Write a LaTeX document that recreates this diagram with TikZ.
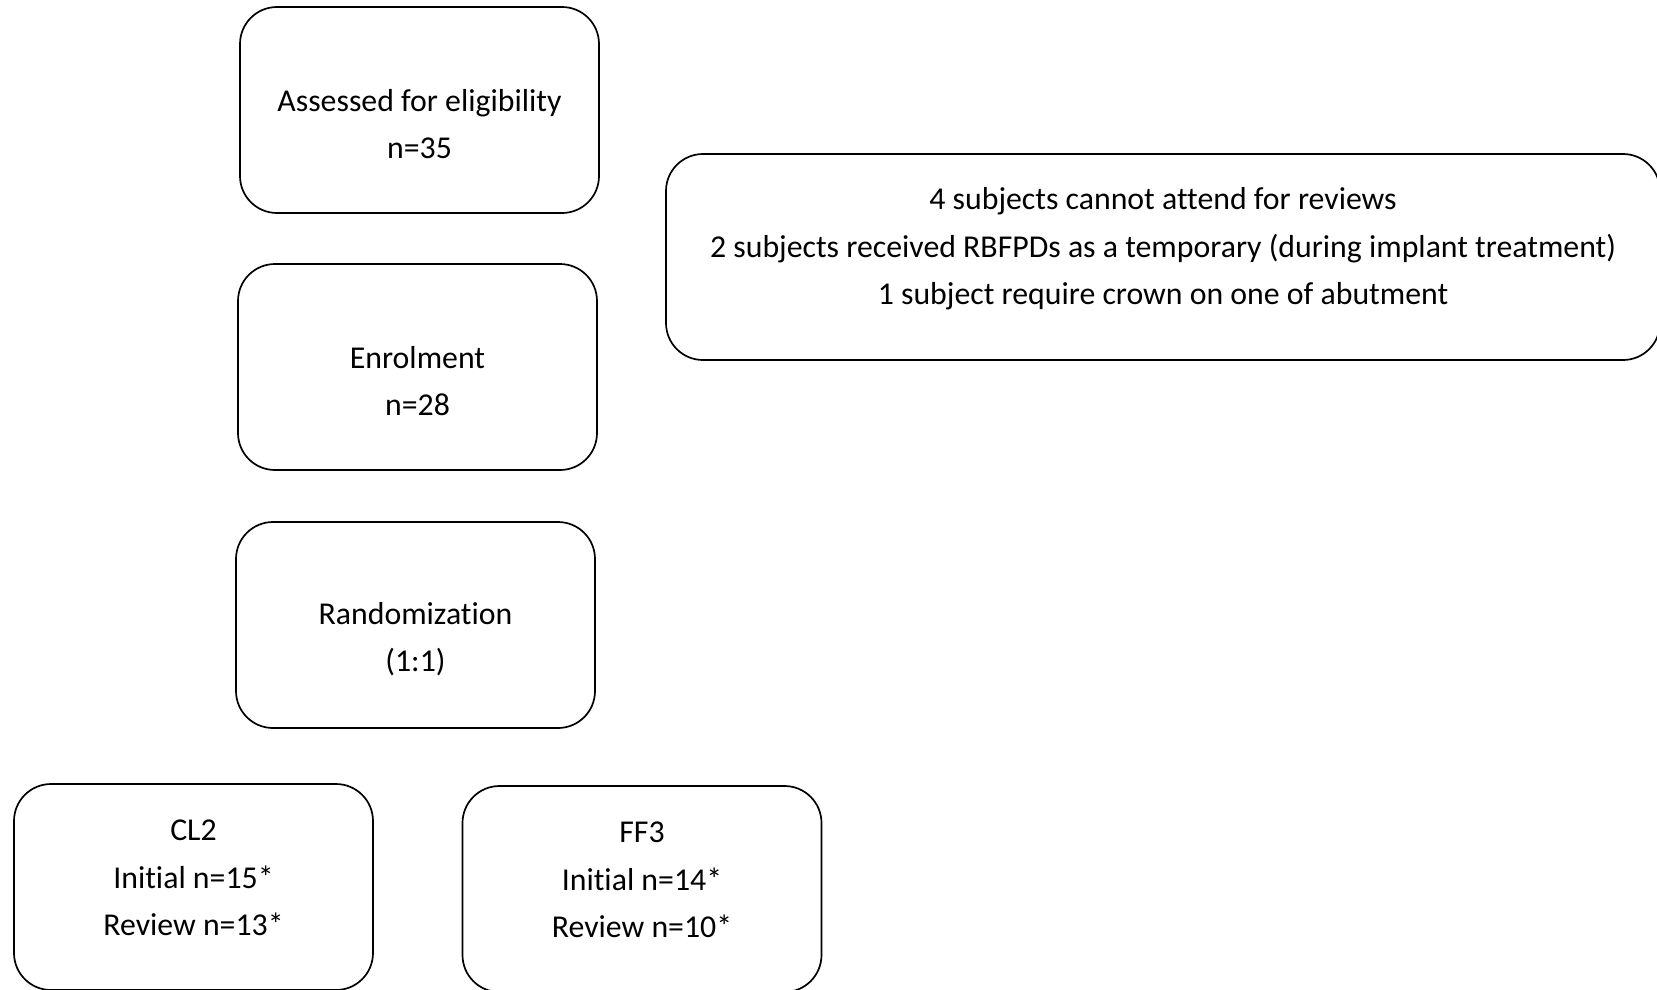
\documentclass[tikz,border=0pt]{standalone}
\usepackage{fontspec}
\setmainfont[RawFeature={-liga;-clig;-calt;-rlig;-dlig}]{Carlito}
\usetikzlibrary{positioning}

\begin{document}
\begin{tikzpicture}[x=1pt,y=-1pt,
    stage/.style={draw,line width=1.7pt,rounded corners=37pt,minimum width=359pt,minimum height=206pt,inner sep=0pt},
    wide/.style={stage,minimum width=994pt},
    txt/.style={align=center,font=\fontsize{31.8}{47.6}\selectfont}]
        \useasboundingbox (0,0) rectangle (1657,989);

        % flow boxes
        \node[stage] (elig) at (419.5,110) {};
        \node[stage] (enrol) at (417.5,367) {};
        \node[stage] (rand) at (415.5,625) {};
        \node[wide] (excl) at (1163,257) {};
        \node[stage] (cl) at (193.5,887) {};
        \node[stage] (ff) at (642,889) {};

        % texts
        \node[txt] (eligtxt) at ([yshift=-14pt]elig.center) {Assessed for eligibility\\n=35};
        \node[txt] (enroltxt) at ([yshift=-14pt]enrol.center) {Enrolment\\n=28};
        \node[txt] (randtxt) at ([yshift=-14pt]rand.center) {Randomization\\(1:1)};
        \node[txt] (excltxt) at ([yshift=8pt]excl.center) {4 subjects cannot attend for reviews\\2 subjects received RBFPDs as a temporary (during implant treatment)\\1 subject require crown on one of abutment};
        \node[txt] (cltxt) at ([yshift=9pt]cl.center) {CL2\\Initial n=15*\\Review n=13*};
        \node[txt] (fftxt) at ([yshift=9pt]ff.center) {FF3\\Initial n=14*\\Review n=10*};
      \end{tikzpicture}
\end{document}
